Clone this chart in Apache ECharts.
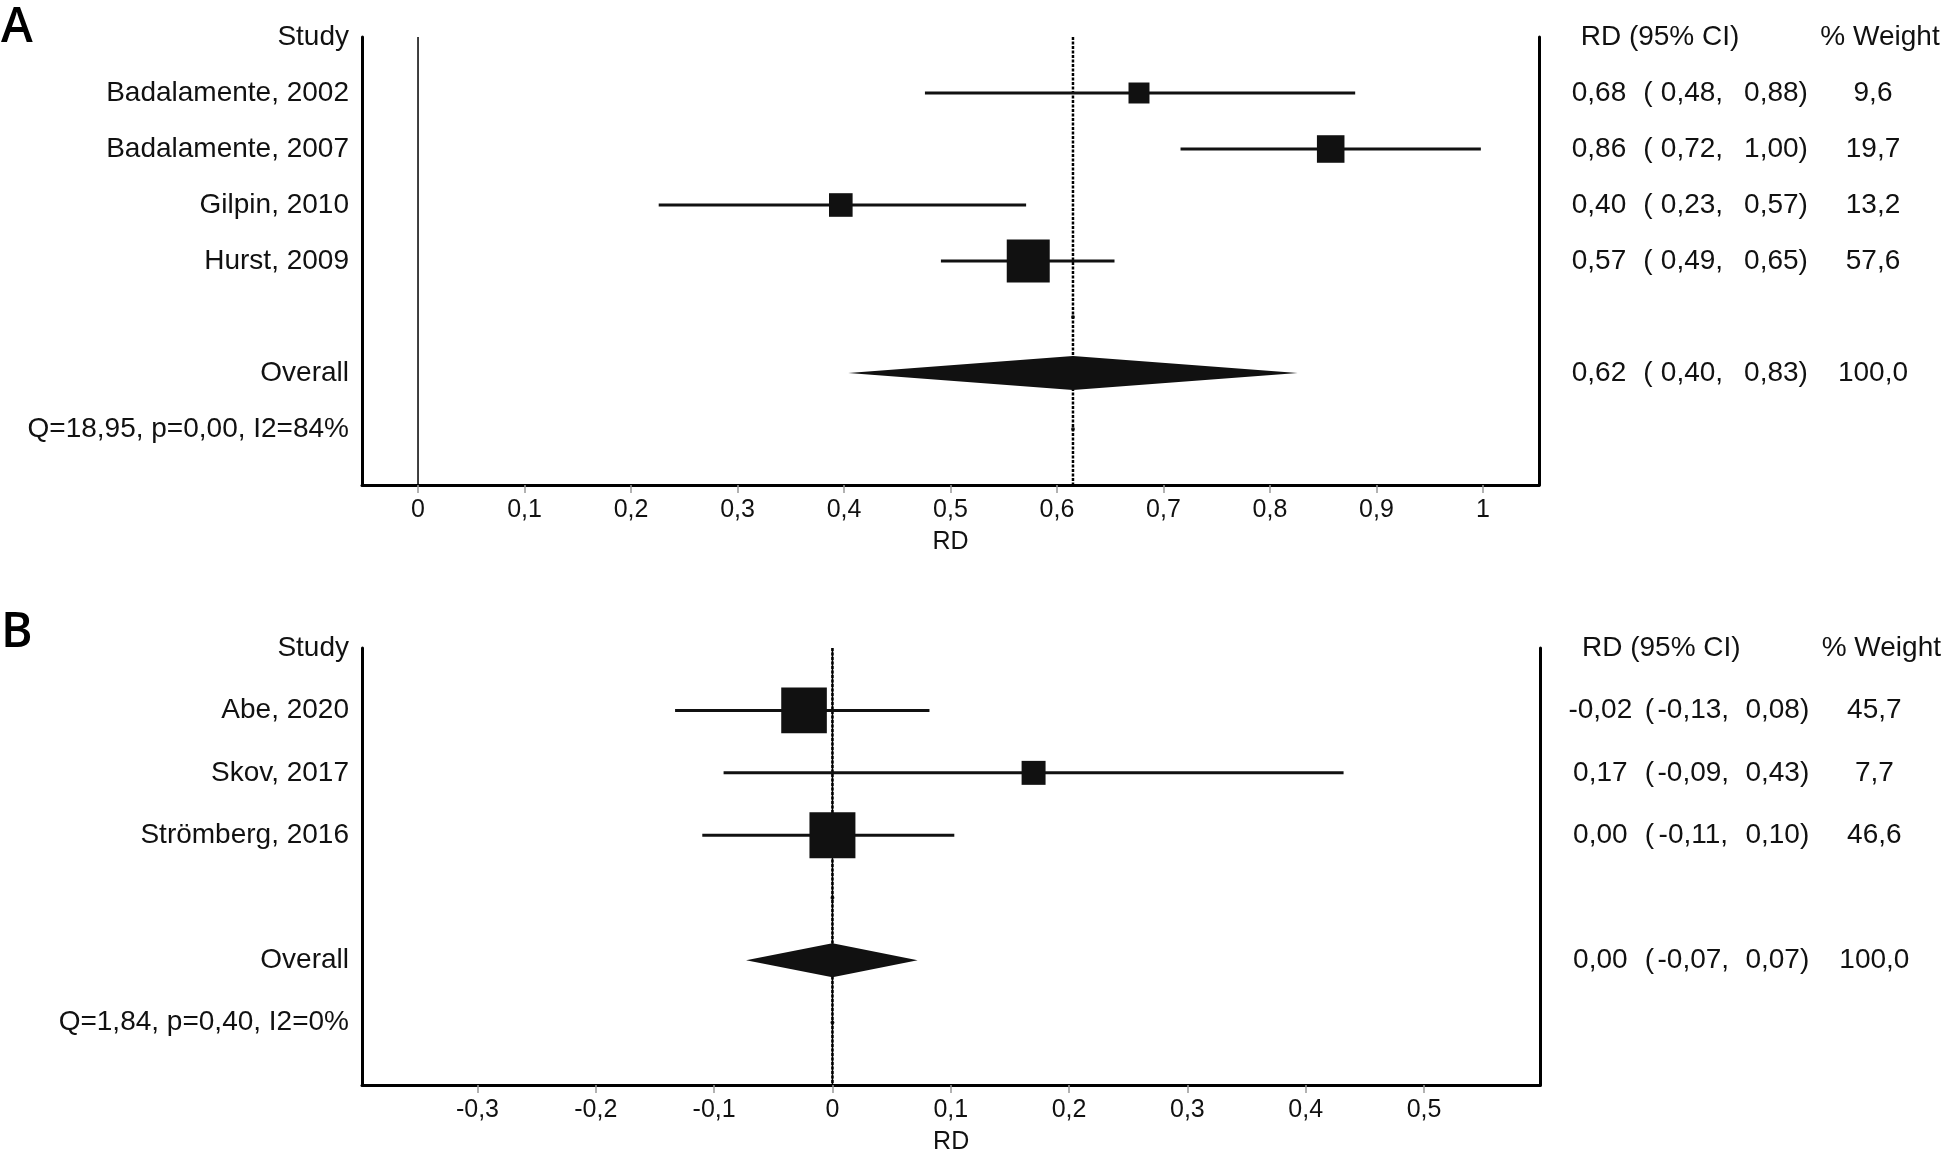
<!DOCTYPE html>
<html>
<head>
<meta charset="utf-8">
<script src="https://cdn.jsdelivr.net/npm/echarts@6/dist/echarts.min.js"></script>
<style>
  html, body { margin: 0; padding: 0; background: #fff; }
  #chart { width: 1944px; height: 1157px; }
</style>
</head>
<body>
<div id="chart"></div>
<script>
// ---- panel A data ----
const studiesA = ['Badalamente, 2002', 'Badalamente, 2007', 'Gilpin, 2010', 'Hurst, 2009'];
const rdA = [0.677, 0.857, 0.397, 0.573];
const lowA = [0.476, 0.716, 0.226, 0.491];
const highA = [0.88, 0.998, 0.571, 0.654];
const weightA = [9.6, 19.7, 13.2, 57.6];
const overallA = [0.615, 0.404, 0.826];   // estimate, low, high
const hetA = 'Q=18,95, p=0,00, I2=84%';
const ticksA = [0, 0.1, 0.2, 0.3, 0.4, 0.5, 0.6, 0.7, 0.8, 0.9, 1];

// ---- panel B data ----
const studiesB = ['Abe, 2020', 'Skov, 2017', 'Strömberg, 2016'];
const rdB = [-0.024, 0.17, 0.00];
const lowB = [-0.133, -0.092, -0.11];
const highB = [0.082, 0.432, 0.103];
const weightB = [45.7, 7.7, 46.6];
const overallB = [0.00, -0.073, 0.072];
const hetB = 'Q=1,84, p=0,40, I2=0%';
const ticksB = [-0.3, -0.2, -0.1, 0, 0.1, 0.2, 0.3, 0.4, 0.5];

const FONT = '"Liberation Sans", Arial, sans-serif';
const INK = '#111';
const FS = 28;

// number with comma decimal, rounded half up
function fmt(v, d) {
  const f = Math.pow(10, d);
  const r = Math.round(Math.abs(v) * f + 1e-6) / f;
  return (v < 0 && r !== 0 ? '-' : '') + r.toFixed(d).replace('.', ',');
}
function tickFmt(v) {
  return String(Math.round(v * 10) / 10).replace('.', ',');
}

// rich text cell (zrender centres mixed tokens inside their boxes)
function cell(w) {
  return { width: w, align: 'center', fontSize: FS, fontFamily: FONT, color: INK };
}

function panel(k, studies, rd, low, high, weight, overall, het, ticks, range, box) {
  const n = studies.length;
  const maxRow = n + 4;
  const rowOverall = n + 2;
  const rowHet = n + 3;
  const yL = k * 2;

  const leftText = {};
  leftText[0] = 'Study';
  studies.forEach((s, i) => { leftText[i + 1] = s; });
  leftText[rowOverall] = 'Overall';
  leftText[rowHet] = het;

  const line = (e, l, h, w) =>
    '{e|' + fmt(e, 2) + '}{p|(}{l|' + fmt(l, 2) + ',}{h|' + fmt(h, 2) + ')}{w|' + fmt(w, 1) + '}';
  const rightText = {};
  rightText[0] = '{hd|RD (95% CI)}{hw|% Weight}';
  studies.forEach((s, i) => { rightText[i + 1] = line(rd[i], low[i], high[i], weight[i]); });
  rightText[rowOverall] = line(overall[0], overall[1], overall[2], 100);

  const rowVals = Object.keys(leftText).map(Number);
  const rightVals = Object.keys(rightText).map(Number);

  const xAxis = {
    type: 'value', gridIndex: k, min: range[0], max: range[1],
    axisLine: { show: true, onZero: false, lineStyle: { color: '#000', width: 3 } },
    axisTick: { show: true, customValues: ticks, length: 8, lineStyle: { color: '#999', width: 1.5 } },
    axisLabel: { customValues: ticks, formatter: tickFmt, margin: 13, fontSize: 25, color: INK, fontFamily: FONT },
    splitLine: { show: false },
    name: 'RD', nameLocation: 'middle', nameGap: 45,
    nameTextStyle: { fontSize: 25, color: INK, fontFamily: FONT }
  };
  const yBase = {
    type: 'value', gridIndex: k, min: 0, max: maxRow, inverse: true,
    axisLine: { show: true, onZero: false, lineStyle: { color: '#000', width: 3 } },
    axisTick: { show: false }, splitLine: { show: false }
  };
  const yLeft = Object.assign({}, yBase, {
    position: 'left',
    axisLabel: {
      customValues: rowVals, formatter: v => leftText[v] || '',
      margin: 13, fontSize: FS, color: INK, fontFamily: FONT
    }
  });
  const yRight = Object.assign({}, yBase, {
    position: 'right',
    axisLabel: {
      customValues: rightVals, formatter: v => rightText[v] || '',
      margin: 20, color: INK, fontFamily: FONT, fontSize: FS,
      rich: {
        hd: cell(202), hw: cell(238),
        e: cell(80), p: cell(18), l: cell(70), h: cell(98), w: cell(96)
      }
    }
  });

  const studyData = studies.map((s, i) => [rd[i], low[i], high[i], i + 1, weight[i]]);

  const series = [
    {
      type: 'line', xAxisIndex: k, yAxisIndex: yL, silent: true, symbol: 'none',
      data: [[0, 0], [0, maxRow]], lineStyle: { color: '#000', width: 1.5 }, z: 2
    },
    {
      type: 'line', xAxisIndex: k, yAxisIndex: yL, silent: true, symbol: 'none',
      data: [[overall[0], 0], [overall[0], maxRow]],
      lineStyle: { color: '#000', width: 2.5, type: [3, 1.5] }, z: 3
    },
    {
      type: 'custom', xAxisIndex: k, yAxisIndex: yL, silent: true, z: 4,
      data: studyData,
      encode: { x: [0, 1, 2], y: 3 },
      renderItem: function (params, api) {
        const row = api.value(3);
        const a = api.coord([api.value(1), row]);
        const b = api.coord([api.value(2), row]);
        const c = api.coord([api.value(0), row]);
        const s = box(api.value(4));
        return {
          type: 'group', children: [
            { type: 'line', shape: { x1: a[0], y1: a[1], x2: b[0], y2: b[1] }, style: { stroke: INK, lineWidth: 3 } },
            { type: 'rect', shape: { x: c[0] - s / 2, y: c[1] - s / 2, width: s, height: s }, style: { fill: INK } }
          ]
        };
      }
    },
    {
      type: 'custom', xAxisIndex: k, yAxisIndex: yL, silent: true, z: 4,
      data: [[overall[0], overall[1], overall[2], rowOverall]],
      encode: { x: [0, 1, 2], y: 3 },
      renderItem: function (params, api) {
        const row = api.value(3);
        const a = api.coord([api.value(1), row]);
        const b = api.coord([api.value(2), row]);
        const c = api.coord([api.value(0), row]);
        const hh = 17;
        return {
          type: 'polygon',
          shape: { points: [a, [c[0], c[1] - hh], b, [c[0], c[1] + hh]] },
          style: { fill: INK }
        };
      }
    },
    {
      type: 'scatter', xAxisIndex: k, yAxisIndex: yL, silent: true, symbol: 'circle', symbolSize: 4,
      itemStyle: { color: '#000' }, z: 5,
      data: [[overall[0], n + 1], [overall[0], rowHet]]
    }
  ];

  return { xAxis, yAxes: [yLeft, yRight], series };
}

const pA = panel(0, studiesA, rdA, lowA, highA, weightA, overallA, hetA, ticksA, [-0.0526, 1.0526],
  w => 5.8 + 4.9 * Math.sqrt(w));
const pB = panel(1, studiesB, rdB, lowB, highB, weightB, overallB, hetB, ticksB, [-0.3976, 0.5983],
  w => 8.9 + 5.43 * Math.sqrt(w));

const panelLetter = { fontSize: 48, fontWeight: 600, color: '#000', fontFamily: '"Open Sans", sans-serif' };

const chart = echarts.init(document.getElementById('chart'));
chart.setOption({
  animation: false,
  backgroundColor: '#fff',
  title: [
    { text: 'A', left: 1, top: 4, padding: 0, textStyle: panelLetter },
    { text: 'B', left: 1, top: 609, padding: 0, textStyle: panelLetter }
  ],
  grid: [
    { left: 362, right: 405, top: 37, bottom: 672 },
    { left: 362, right: 398, top: 648, bottom: 72 }
  ],
  xAxis: [pA.xAxis, pB.xAxis],
  yAxis: pA.yAxes.concat(pB.yAxes),
  series: pA.series.concat(pB.series)
});
</script>
</body>
</html>
